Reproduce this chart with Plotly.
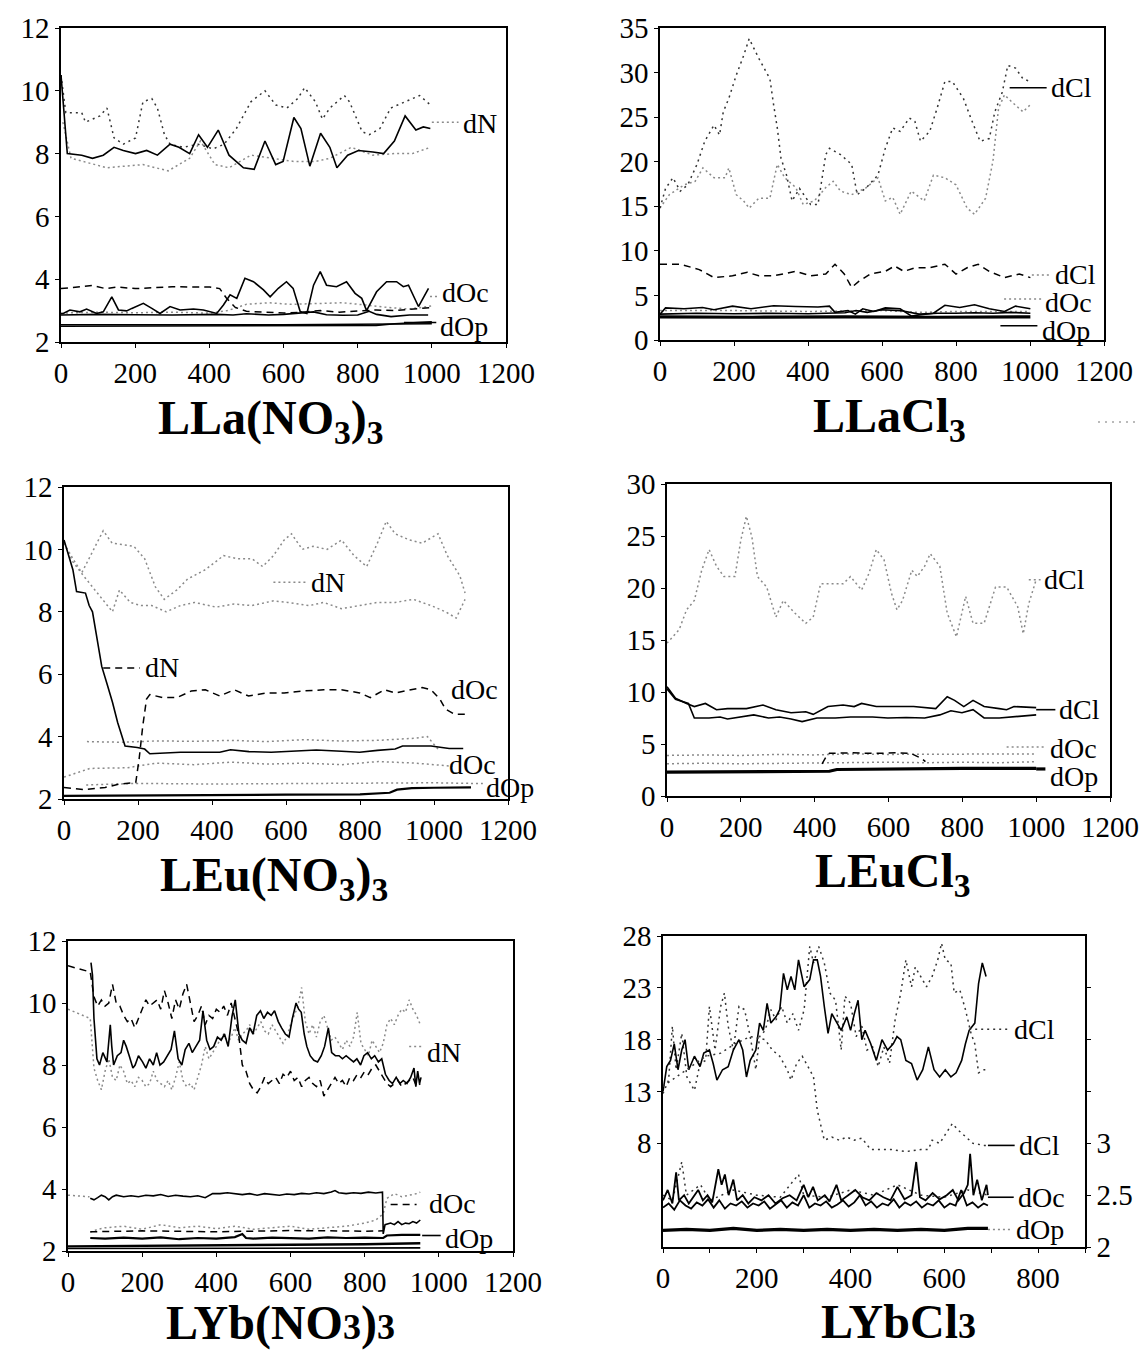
import plotly.graph_objects as go

W, H = 1140, 1352

# ---------------- DATA ----------------
# Panel 1: LLa(NO3)3
p1_dN_solid_x = [0, 8, 17, 56, 85, 114, 143, 168, 201, 231, 260, 294, 318, 347, 371, 395, 424, 453, 473, 492, 521, 550, 579, 599, 628, 647, 671, 700, 725, 744, 773, 802, 841, 870, 899, 928, 957, 977, 996]
p1_dN_solid_y = [10.5, 9.3, 8.0, 7.95, 7.85, 7.95, 8.2, 8.1, 8.0, 8.1, 7.95, 8.3, 8.2, 8.0, 8.6, 8.2, 8.75, 7.95, 7.75, 7.55, 7.5, 8.4, 7.65, 7.75, 9.15, 8.8, 7.6, 8.65, 8.2, 7.55, 7.95, 8.1, 8.05, 8.0, 8.4, 9.2, 8.75, 8.85, 8.8]
p1_dN_dotA_x = [0, 13, 56, 66, 105, 124, 143, 168, 201, 221, 245, 260, 279, 294, 330, 370, 410, 440, 473, 512, 550, 579, 609, 638, 657, 686, 705, 725, 764, 778, 812, 831, 860, 889, 928, 967, 996]
p1_dN_dotA_y = [10.5, 9.3, 9.3, 9.0, 9.2, 9.45, 8.5, 8.3, 8.5, 9.65, 9.75, 9.45, 8.6, 8.3, 8.2, 8.3, 8.15, 8.3, 8.8, 9.65, 10.0, 9.55, 9.45, 9.75, 10.1, 9.65, 9.1, 9.45, 9.85, 9.65, 8.7, 8.6, 8.8, 9.45, 9.65, 9.85, 9.55]
p1_dN_dotB_x = [5, 27, 124, 221, 289, 347, 376, 415, 453, 512, 570, 628, 686, 725, 783, 841, 899, 948, 996]
p1_dN_dotB_y = [9.0, 7.85, 7.55, 7.65, 7.45, 7.85, 8.4, 7.65, 7.55, 7.95, 7.85, 7.75, 7.75, 7.85, 8.2, 7.95, 8.0, 8.0, 8.2]
p1_dOc_solidA_x = [0, 6, 24, 51, 69, 96, 114, 137, 155, 177, 191, 222, 245, 267, 294, 321, 357, 384, 420, 438, 456, 474, 496, 519, 546, 564, 586, 608, 626, 645, 663, 681, 699, 716, 743, 770, 793, 811, 824, 851, 878, 905, 923, 937, 964, 982, 991]
p1_dOc_solidA_y = [2.9, 2.91, 3.02, 2.96, 3.05, 2.91, 2.96, 3.44, 3.02, 2.99, 3.07, 3.23, 3.07, 2.91, 3.13, 3.02, 3.05, 3.02, 2.91, 3.18, 3.5, 3.39, 4.03, 3.92, 3.66, 3.44, 3.71, 3.92, 3.71, 2.97, 2.91, 3.81, 4.24, 3.81, 3.76, 3.92, 3.55, 3.39, 3.0, 3.6, 3.92, 3.92, 3.76, 3.81, 3.13, 3.5, 3.71]
p1_dOc_solidB_x = [0, 100, 200, 300, 420, 464, 500, 560, 600, 663, 681, 716, 760, 800, 831, 851, 890, 940, 990]
p1_dOc_solidB_y = [2.86, 2.88, 2.87, 2.86, 2.88, 2.86, 2.9, 2.86, 2.88, 2.93, 2.96, 2.87, 2.85, 2.86, 2.98, 2.88, 2.81, 2.86, 2.86]
p1_dOc_dash_x = [0, 50, 85, 120, 153, 200, 250, 300, 350, 401, 428, 446, 470, 500, 550, 600, 650, 700, 750, 800, 850, 900, 950, 1000]
p1_dOc_dash_y = [3.7, 3.75, 3.8, 3.7, 3.75, 3.7, 3.73, 3.76, 3.75, 3.75, 3.7, 3.4, 3.1, 2.98, 2.95, 2.92, 2.95, 3.0, 2.95, 2.98, 3.02, 3.0, 3.05, 3.1]
p1_dOc_dot_x = [0, 100, 200, 300, 400, 450, 500, 560, 620, 700, 760, 820, 880, 940, 1000]
p1_dOc_dot_y = [2.92, 2.95, 2.93, 2.95, 2.92, 3.0, 3.2, 3.25, 3.2, 3.22, 3.25, 3.18, 3.1, 3.05, 3.15]
p1_dOp_A_x = [0, 200, 400, 600, 800, 900, 1000]
p1_dOp_A_y = [2.55, 2.54, 2.55, 2.55, 2.56, 2.57, 2.58]
p1_dOp_B_x = [0, 300, 600, 850, 900, 950, 1000]
p1_dOp_B_y = [2.5, 2.51, 2.52, 2.53, 2.58, 2.62, 2.64]

# Panel 2: LLaCl3
p2_dCl_dotA_x = [0, 15, 35, 55, 75, 100, 121, 146, 161, 171, 186, 206, 226, 241, 267, 297, 307, 317, 327, 342, 357, 377, 407, 427, 448, 458, 488, 518, 533, 558, 589, 609, 629, 649, 674, 689, 704, 729, 749, 770, 790, 820, 840, 865, 890, 905, 925, 940, 961, 981, 1001]
p2_dCl_dotA_y = [14.8, 17.0, 18.2, 16.7, 17.4, 19.7, 22.3, 24.1, 23.0, 25.6, 27.1, 29.7, 31.9, 33.8, 31.6, 29.3, 26.4, 23.8, 20.4, 18.5, 15.6, 17.0, 15.2, 15.2, 20.8, 21.5, 20.8, 19.7, 16.3, 17.1, 18.5, 21.5, 23.8, 23.4, 24.9, 24.5, 22.3, 23.4, 26.0, 29.0, 29.0, 27.1, 24.9, 22.3, 22.6, 25.6, 27.8, 30.8, 30.5, 29.3, 29.0]
p2_dCl_dotB_x = [0, 25, 65, 95, 116, 146, 176, 186, 206, 226, 241, 267, 297, 317, 337, 367, 387, 417, 448, 468, 488, 518, 558, 589, 609, 629, 649, 679, 714, 739, 770, 800, 830, 850, 880, 900, 915, 931, 951, 981, 1001]
p2_dCl_dotB_y = [14.8, 16.3, 17.4, 17.8, 19.3, 18.2, 18.2, 19.3, 16.3, 15.6, 14.8, 15.9, 15.9, 19.7, 18.2, 17.1, 15.2, 15.6, 17.1, 17.8, 16.7, 16.3, 17.1, 18.2, 15.6, 16.0, 14.1, 16.7, 15.6, 18.5, 18.2, 17.4, 14.8, 14.1, 15.9, 20.1, 26.0, 27.5, 26.7, 25.6, 26.4]
p2_dCl_dash_x = [0, 55, 106, 146, 196, 236, 267, 307, 367, 407, 448, 473, 498, 518, 538, 568, 609, 634, 659, 689, 729, 770, 800, 830, 860, 890, 931, 971, 1001]
p2_dCl_dash_y = [8.5, 8.5, 7.9, 7.0, 7.2, 7.6, 7.2, 7.2, 7.7, 7.2, 7.4, 8.5, 7.4, 5.9, 6.6, 7.4, 7.7, 8.3, 7.7, 8.1, 8.1, 8.5, 7.4, 8.1, 8.5, 7.7, 7.0, 7.4, 7.0]
p2_dOc_solidA_x = [0, 15, 65, 115, 146, 196, 246, 307, 367, 427, 458, 473, 508, 528, 548, 578, 609, 649, 679, 709, 739, 770, 810, 850, 890, 931, 961, 1001]
p2_dOc_solidA_y = [2.9, 3.6, 3.5, 3.65, 3.4, 3.8, 3.5, 3.85, 3.75, 3.7, 3.8, 3.1, 3.3, 2.9, 3.5, 3.2, 3.6, 3.5, 2.7, 2.85, 3.0, 3.9, 3.65, 3.95, 3.5, 3.2, 3.8, 3.5]
p2_dOc_solidB_x = [0, 100, 200, 300, 400, 458, 500, 530, 560, 600, 650, 700, 750, 800, 850, 900, 950, 1001]
p2_dOc_solidB_y = [2.9, 3.0, 2.95, 3.0, 2.95, 3.0, 3.05, 3.3, 3.1, 3.4, 3.3, 2.9, 3.0, 3.0, 3.05, 3.0, 3.1, 3.0]
p2_dOc_dot_x = [0, 200, 400, 600, 700, 800, 1000]
p2_dOc_dot_y = [3.3, 3.3, 3.2, 3.3, 3.1, 3.2, 3.2]
p2_dOp_x = [0, 250, 500, 750, 1001]
p2_dOp_y = [2.6, 2.55, 2.6, 2.55, 2.6]

# Panel 3: LEu(NO3)3
p3_dN_solid_x = [0, 10, 24, 34, 58, 68, 77, 87, 102, 116, 131, 145, 165, 198, 218, 232, 266, 315, 370, 421, 450, 500, 560, 600, 682, 750, 799, 847, 895, 915, 992, 1041, 1079]
p3_dN_solid_y = [10.3, 9.9, 9.35, 8.65, 8.6, 8.2, 8.0, 7.3, 6.25, 5.7, 5.1, 4.45, 3.7, 3.65, 3.6, 3.45, 3.48, 3.5, 3.5, 3.5, 3.58, 3.52, 3.5, 3.52, 3.57, 3.53, 3.5, 3.56, 3.6, 3.7, 3.7, 3.62, 3.62]
p3_dOc_dash_x = [0, 53, 111, 150, 194, 203, 213, 223, 232, 266, 305, 344, 382, 421, 460, 499, 547, 595, 644, 702, 750, 799, 828, 866, 895, 934, 968, 992, 1016, 1031, 1055, 1084]
p3_dOc_dash_y = [2.37, 2.3, 2.37, 2.48, 2.53, 3.28, 4.35, 5.2, 5.35, 5.25, 5.25, 5.46, 5.5, 5.3, 5.5, 5.3, 5.4, 5.4, 5.46, 5.5, 5.5, 5.4, 5.25, 5.5, 5.4, 5.5, 5.57, 5.5, 5.2, 4.88, 4.72, 4.72]
p3_dN_dotA_x = [0, 24, 48, 106, 130, 189, 218, 247, 271, 305, 334, 382, 431, 470, 508, 537, 566, 595, 615, 644, 673, 711, 750, 784, 818, 847, 871, 895, 934, 968, 1011, 1036, 1070, 1084]
p3_dN_dotA_y = [10.2, 9.7, 9.25, 10.6, 10.2, 10.1, 9.7, 8.8, 8.4, 8.7, 9.05, 9.35, 9.8, 9.7, 9.7, 9.45, 9.8, 10.3, 10.5, 10.0, 10.1, 10.0, 10.3, 9.8, 9.45, 10.2, 10.9, 10.5, 10.3, 10.2, 10.5, 9.8, 9.15, 8.6]
p3_dN_dotB_x = [0, 24, 53, 90, 131, 150, 179, 208, 237, 276, 315, 353, 411, 460, 508, 566, 605, 663, 702, 750, 799, 847, 895, 944, 992, 1031, 1060, 1084]
p3_dN_dotB_y = [10.2, 9.6, 9.15, 8.6, 8.0, 8.7, 8.3, 8.2, 8.2, 8.0, 8.2, 8.3, 8.15, 8.25, 8.2, 8.35, 8.3, 8.2, 8.3, 8.1, 8.2, 8.3, 8.3, 8.4, 8.2, 8.0, 7.8, 8.4]
p3_dOc_dotA_x = [62, 150, 250, 350, 450, 550, 650, 750, 850, 950, 982, 1011]
p3_dOc_dotA_y = [3.84, 3.82, 3.86, 3.85, 3.88, 3.84, 3.9, 3.86, 3.88, 3.95, 4.0, 3.6]
p3_dOc_dotB_x = [0, 70, 170, 250, 350, 450, 550, 650, 750, 850, 950, 1000, 1050]
p3_dOc_dotB_y = [2.7, 2.98, 3.0, 3.15, 3.1, 3.18, 3.12, 3.15, 3.1, 3.2, 3.15, 3.1, 3.05]
p3_dOp_dot_x = [60, 200, 400, 600, 800, 1000, 1100]
p3_dOp_dot_y = [2.45, 2.5, 2.48, 2.5, 2.5, 2.52, 2.5]
p3_dOp_solid_x = [0, 200, 400, 600, 800, 880, 900, 940, 1000, 1100]
p3_dOp_solid_y = [2.1, 2.12, 2.13, 2.14, 2.15, 2.2, 2.3, 2.35, 2.36, 2.37]

# Panel 4: LEuCl3
p4_dCl_dot_x = [0, 33, 53, 74, 94, 114, 134, 154, 184, 200, 215, 230, 245, 270, 295, 315, 346, 376, 396, 416, 446, 477, 497, 527, 547, 567, 588, 608, 623, 638, 663, 678, 698, 713, 739, 759, 784, 809, 829, 859, 890, 920, 950, 965, 980, 1000]
p4_dCl_dot_y = [14.7, 16.0, 17.9, 18.8, 21.7, 23.7, 22.1, 21.1, 21.1, 24.6, 26.9, 24.9, 21.1, 20.1, 17.2, 18.8, 17.6, 16.6, 17.2, 20.4, 20.4, 20.4, 21.1, 19.8, 21.4, 23.7, 22.7, 19.5, 17.9, 18.8, 21.7, 21.1, 22.1, 23.3, 22.1, 17.6, 15.3, 19.2, 16.6, 16.6, 20.1, 20.1, 18.2, 15.6, 18.5, 20.8]
p4_dCl_solidA_x = [0, 23, 53, 74, 104, 134, 164, 215, 260, 295, 336, 376, 396, 436, 477, 507, 527, 567, 618, 668, 728, 759, 779, 804, 829, 859, 900, 920, 940, 980, 1000]
p4_dCl_solidA_y = [10.5, 9.4, 8.9, 8.6, 8.9, 8.3, 8.4, 8.4, 8.75, 8.3, 8.0, 8.1, 7.85, 8.6, 8.75, 8.6, 8.9, 8.6, 8.6, 8.6, 8.4, 9.55, 9.2, 8.6, 9.2, 8.6, 8.4, 8.3, 8.6, 8.5, 8.5]
p4_dCl_solidB_x = [0, 23, 58, 74, 114, 144, 164, 205, 235, 275, 305, 336, 366, 406, 456, 497, 557, 598, 648, 698, 739, 769, 799, 829, 859, 900, 940, 1000]
p4_dCl_solidB_y = [10.3, 9.3, 8.9, 7.5, 7.5, 7.6, 7.4, 7.6, 7.8, 7.5, 7.6, 7.4, 7.15, 7.5, 7.5, 7.6, 7.6, 7.5, 7.55, 7.5, 7.8, 8.2, 8.0, 8.3, 7.5, 7.5, 7.6, 7.8]
p4_dOc_dotA_x = [0, 100, 200, 300, 400, 500, 600, 700, 800, 900, 1000]
p4_dOc_dotA_y = [3.9, 3.95, 3.9, 4.0, 3.95, 4.05, 4.0, 4.0, 4.05, 4.0, 4.05]
p4_dOc_dash_x = [420, 430, 440, 500, 560, 620, 660, 690, 700]
p4_dOc_dash_y = [3.1, 3.7, 4.1, 4.15, 4.1, 4.15, 4.1, 3.6, 3.3]
p4_dOc_dotB_x = [0, 100, 200, 300, 420, 500, 600, 700, 800, 900, 1000]
p4_dOc_dotB_y = [3.1, 3.15, 3.1, 3.15, 3.2, 3.2, 3.25, 3.2, 3.25, 3.2, 3.3]
p4_dOp_x = [0, 100, 200, 300, 400, 440, 460, 600, 800, 1000]
p4_dOp_y = [2.3, 2.32, 2.35, 2.33, 2.35, 2.38, 2.55, 2.6, 2.65, 2.66]

# Panel 5: LYb(NO3)3
p5_dN_solid_x = [62, 66, 70, 78, 85, 94, 105, 114, 118, 123, 133, 143, 150, 157, 165, 175, 181, 190, 201, 210, 220, 230, 239, 248, 258, 268, 278, 287, 297, 307, 316, 326, 335, 345, 355, 364, 374, 383, 393, 403, 413, 422, 432, 442, 451, 461, 470, 480, 490, 499, 509, 519, 528, 538, 548, 557, 567, 576, 586, 596, 605, 615, 622, 629, 637, 644, 653, 663, 673, 683, 692, 702, 707, 711, 721, 731, 740, 750, 760, 770, 779, 789, 798, 808, 818, 827, 837, 846, 856, 866, 875, 885, 895, 904, 914, 924, 933, 938, 943, 948, 952]
p5_dN_solid_y = [11.3, 10.9, 9.5, 8.2, 8.0, 8.4, 8.1, 9.3, 8.6, 8.0, 8.3, 8.4, 8.8, 8.6, 8.3, 7.9, 8.0, 8.3, 8.1, 7.9, 8.2, 8.0, 8.4, 8.0, 8.1, 8.3, 8.5, 9.1, 8.2, 8.0, 8.5, 8.7, 8.4, 8.6, 8.8, 9.75, 8.8, 8.5, 8.6, 8.9, 8.8, 9.0, 8.6, 9.55, 10.1, 9.0, 8.8, 8.7, 9.2, 9.0, 9.6, 9.75, 9.5, 9.7, 9.6, 9.75, 9.4, 9.2, 9.0, 8.9, 9.5, 10.0, 9.8, 9.7, 9.0, 8.6, 8.3, 8.15, 8.1, 8.3, 8.6, 9.2, 8.7, 8.4, 8.3, 8.3, 8.2, 8.3, 8.2, 8.1, 8.2, 8.0, 8.3, 8.4, 8.2, 8.3, 8.1, 8.2, 7.7, 7.5, 7.4, 7.6, 7.4, 7.5, 7.4, 7.6, 7.9, 7.3, 7.8, 7.4, 7.6]
p5_dN_dash_x = [0, 60, 70, 80, 90, 100, 110, 120, 130, 140, 150, 160, 170, 180, 190, 200, 210, 220, 230, 240, 250, 260, 270, 280, 290, 300, 310, 320, 330, 340, 350, 360, 370, 380, 390, 400, 410, 420, 430, 440, 450, 460, 470, 480, 490, 500, 510, 520, 530, 540, 550, 560, 570, 580, 590, 600, 610, 620, 630, 640, 650, 660, 670, 680, 690, 700, 710, 720, 730, 740, 750, 760, 770, 780, 790, 800, 810, 820, 830, 840, 850, 860, 870, 880, 890, 900, 910, 920, 930, 940, 950]
p5_dN_dash_y = [11.2, 11.0, 10.2, 9.9, 10.1, 9.9, 10.0, 10.6, 10.0, 9.9, 9.6, 9.4, 9.5, 9.2, 9.5, 9.8, 10.1, 9.9, 10.0, 10.1, 9.8, 10.4, 10.0, 9.5, 10.1, 9.8, 10.3, 10.6, 10.0, 9.4, 9.6, 9.9, 9.3, 9.6, 9.5, 9.8, 9.7, 9.9, 9.6, 10.0, 9.5, 9.0, 8.0, 7.8, 7.4, 7.2, 7.1, 7.3, 7.6, 7.4, 7.5, 7.6, 7.4, 7.7, 7.6, 7.8, 7.5, 7.6, 7.3, 7.5, 7.6, 7.4, 7.3, 7.5, 7.0, 7.2, 7.4, 7.6, 7.4, 7.5, 7.3, 7.6, 7.5, 7.7, 7.6, 7.8, 7.7, 7.9, 8.0, 7.8, 7.6, 7.4, 7.3, 7.4, 7.5, 7.3, 7.4, 7.5, 7.6, 7.3, 7.4]
p5_dN_dot_x = [0, 60, 70, 80, 90, 100, 110, 120, 130, 140, 150, 160, 170, 180, 190, 200, 210, 220, 230, 240, 250, 260, 270, 280, 290, 300, 310, 320, 330, 340, 350, 360, 370, 380, 390, 400, 410, 420, 430, 440, 450, 460, 470, 480, 490, 500, 510, 520, 530, 540, 550, 560, 570, 580, 590, 600, 610, 620, 630, 640, 650, 660, 670, 680, 690, 700, 710, 720, 730, 740, 750, 760, 770, 780, 790, 800, 810, 820, 830, 840, 850, 860, 870, 880, 890, 900, 910, 920, 930, 940, 950]
p5_dN_dot_y = [9.8, 9.5, 7.9, 7.5, 7.2, 7.8, 8.2, 7.6, 7.5, 8.0, 7.8, 7.4, 7.5, 7.3, 7.6, 7.5, 7.3, 7.4, 7.8, 7.5, 7.4, 7.3, 7.5, 7.2, 7.6, 8.1, 7.5, 7.3, 7.4, 7.2, 7.6, 8.0, 8.6, 8.2, 8.4, 8.6, 8.8, 9.0, 8.7, 8.9, 9.2, 8.8, 9.0, 9.1, 9.3, 9.0, 9.2, 9.4, 9.1, 9.0, 9.3, 9.1, 8.9, 8.7, 8.9, 9.3, 9.6, 9.9, 10.5, 9.4, 9.0, 9.3, 8.9, 9.4, 9.6, 9.2, 8.8, 8.9, 8.7, 8.5, 8.8, 8.6, 8.9, 9.7, 8.7, 8.5, 8.3, 8.8, 8.6, 8.4, 8.7, 9.3, 9.5, 9.3, 9.6, 9.8, 9.7, 10.1, 9.8, 9.6, 9.3]
p5_dOc_solid_x = [60, 70, 80, 90, 100, 110, 120, 130, 150, 170, 190, 210, 230, 250, 270, 290, 310, 330, 350, 370, 390, 410, 430, 450, 470, 490, 510, 530, 550, 570, 590, 610, 630, 650, 670, 690, 710, 720, 730, 750, 770, 790, 810, 830, 848, 850, 855, 870, 880, 890, 900, 910, 920, 930, 940, 950]
p5_dOc_solid_y = [3.7, 3.65, 3.72, 3.8, 3.75, 3.65, 3.75, 3.8, 3.75, 3.78, 3.75, 3.8, 3.78, 3.82, 3.76, 3.8, 3.77, 3.75, 3.78, 3.72, 3.85, 3.85, 3.88, 3.86, 3.82, 3.85, 3.8, 3.85, 3.82, 3.8, 3.84, 3.82, 3.86, 3.84, 3.88, 3.85, 3.9, 3.95, 3.88, 3.85, 3.88, 3.86, 3.9, 3.87, 3.9, 2.55, 2.85, 2.9, 2.85, 2.95, 2.85, 2.9, 2.88, 2.95, 2.9, 3.0]
p5_dOc_dot_x = [0, 58, None, 60, 80, 100, 150, 200, 250, 300, 350, 400, 450, 500, 550, 600, 650, 700, 750, 800, 830, 850, 860, 880, 900, 920, 940, 950]
p5_dOc_dot_y = [3.8, 3.75, None, 2.6, 2.7, 2.75, 2.8, 2.7, 2.85, 2.75, 2.8, 2.72, 2.8, 2.7, 2.75, 2.8, 2.7, 2.75, 2.8, 2.9, 3.0, 3.2, 3.7, 3.85, 3.75, 3.8, 3.85, 3.9]
p5_dOc_dash_x = [60, 200, 400, 600, 800, 850, None, 870, 900, 940]
p5_dOc_dash_y = [2.62, 2.65, 2.62, 2.66, 2.64, 2.65, None, 3.5, 3.5, 3.5]
p5_dOp_A_x = [60, 100, 150, 200, 250, 300, 350, 400, 450, 470, 480, 500, 550, 600, 650, 700, 750, 800, 850, 860, 900, 950]
p5_dOp_A_y = [2.42, 2.4, 2.43, 2.4, 2.44, 2.38, 2.42, 2.4, 2.45, 2.55, 2.42, 2.4, 2.43, 2.42, 2.4, 2.44, 2.42, 2.43, 2.42, 2.5, 2.52, 2.52]
p5_dOp_B_x = [0, 200, 400, 600, 800, 950]
p5_dOp_B_y = [2.15, 2.16, 2.18, 2.2, 2.22, 2.25]
p5_dOp_C_x = [0, 300, 600, 950]
p5_dOp_C_y = [2.08, 2.08, 2.09, 2.1]

# Panel 6: LYbCl3 (left axis: dCl; right axis: lower dCl, dOc, dOp)
p6_dCl_solid_x = [0, 8, 16, 24, 32, 40, 47, 55, 67, 79, 87, 99, 107, 115, 127, 139, 150, 162, 170, 178, 186, 198, 206, 214, 222, 230, 241, 249, 257, 265, 273, 281, 289, 301, 313, 321, 329, 336, 344, 352, 360, 372, 380, 392, 400, 408, 416, 424, 431, 443, 455, 467, 479, 491, 499, 507, 518, 530, 542, 554, 566, 578, 590, 602, 614, 625, 637, 645, 653, 665, 673, 681, 689]
p6_dCl_solid_y = [13.0, 15.4, 16.0, 17.6, 15.1, 17.0, 18.0, 15.1, 16.4, 15.4, 16.7, 17.0, 15.7, 14.1, 15.1, 15.4, 17.0, 18.0, 17.0, 14.4, 16.0, 17.0, 19.6, 18.9, 21.5, 19.6, 20.2, 20.9, 24.4, 22.8, 24.1, 22.8, 25.7, 23.1, 23.8, 25.7, 25.7, 24.1, 21.2, 18.6, 20.5, 19.6, 18.9, 20.2, 18.9, 20.5, 21.8, 18.0, 18.9, 17.6, 16.0, 18.0, 17.0, 17.6, 18.3, 18.0, 16.0, 15.7, 14.1, 15.1, 17.3, 15.1, 14.4, 15.1, 14.4, 14.8, 16.0, 17.6, 18.9, 19.6, 23.4, 25.4, 24.1]
p6_dCl_dot_x = [0, 12, 20, 28, 40, 51, 67, 79, 91, 99, 111, 123, 131, 139, 150, 162, 174, 186, 198, 206, 218, 230, 241, 253, 265, 277, 289, 301, 313, 321, 332, 344, 356, 368, 380, 388, 400, 412, 424, 435, 447, 459, 471, 483, 495, 507, 518, 530, 538, 550, 562, 574, 586, 594, 602, 614, 621, 633, 645, 657, 665, 673, 685, 693]
p6_dCl_dot_y = [12.8, 14.1, 19.3, 15.1, 18.6, 14.4, 13.1, 15.7, 16.0, 21.2, 17.0, 21.2, 22.5, 19.3, 17.0, 21.2, 20.9, 18.3, 15.1, 18.3, 18.9, 20.9, 19.9, 21.2, 19.6, 20.5, 18.9, 20.9, 27.0, 25.4, 27.0, 25.4, 22.5, 21.8, 17.0, 22.2, 21.5, 18.3, 19.3, 17.0, 17.3, 15.4, 17.3, 15.7, 19.9, 22.5, 25.7, 23.1, 25.0, 24.1, 23.1, 24.1, 25.7, 27.3, 25.7, 25.4, 22.5, 22.8, 20.9, 18.6, 17.6, 14.8, 15.1, 15.1]
p6_dCl2_x = [0, 28, 59, 91, 123, 154, 186, 218, 233, 249, 265, 273, 285, 297, 313, 321, 329, 336, 344, 360, 376, 392, 408, 424, 443, 463, 487, 518, 550, 566, 574, 590, 606, 617, 629, 645, 661, 685, 693]
p6_dCl2_y = [3.55, 3.64, 3.74, 3.84, 3.87, 3.96, 4.03, 4.0, 3.9, 3.84, 3.71, 3.61, 3.77, 3.84, 3.71, 3.64, 3.32, 3.19, 3.03, 3.06, 3.03, 3.06, 3.03, 3.05, 2.94, 2.94, 2.94, 2.92, 2.94, 2.94, 3.03, 3.0, 3.11, 3.19, 3.13, 3.06, 3.0, 2.98, 2.98]
p6_dOc_A_x = [0, 10, 20, 28, 34, 45, 55, 65, 75, 85, 95, 105, 118, 125, 132, 140, 150, 158, 170, 182, 195, 210, 225, 240, 255, 270, 285, 300, 310, 320, 330, 345, 355, 370, 380, 395, 410, 425, 440, 455, 470, 485, 500, 515, 530, 540, 548, 560, 575, 590, 605, 618, 630, 642, 650, 655, 662, 670, 680, 690, 693]
p6_dOc_A_y = [2.45, 2.55, 2.42, 2.72, 2.45, 2.5, 2.42, 2.48, 2.55, 2.45, 2.5, 2.43, 2.75, 2.6, 2.7, 2.5, 2.65, 2.45, 2.5, 2.42, 2.48, 2.45, 2.5, 2.42, 2.47, 2.5, 2.45, 2.6, 2.48, 2.58, 2.45, 2.5, 2.44, 2.6, 2.45, 2.5, 2.55, 2.48, 2.45, 2.52, 2.48, 2.45, 2.58, 2.46, 2.5, 2.82, 2.48, 2.45, 2.52, 2.46, 2.5, 2.55, 2.45, 2.52, 2.6, 2.9, 2.5, 2.65, 2.45, 2.6, 2.5]
p6_dOc_B_x = [0, 12, 24, 36, 48, 60, 72, 84, 96, 108, 120, 132, 144, 156, 168, 180, 192, 204, 216, 228, 240, 252, 264, 276, 288, 300, 312, 324, 336, 348, 360, 372, 384, 396, 408, 420, 432, 444, 456, 468, 480, 492, 504, 516, 528, 540, 552, 564, 576, 588, 600, 612, 624, 636, 648, 660, 672, 684, 693]
p6_dOc_B_y = [2.38, 2.42, 2.36, 2.45, 2.4, 2.37, 2.43, 2.4, 2.46, 2.38, 2.45, 2.37, 2.42, 2.4, 2.44, 2.38, 2.42, 2.4, 2.44, 2.37, 2.41, 2.45, 2.38, 2.43, 2.4, 2.5, 2.38, 2.42, 2.4, 2.44, 2.38, 2.41, 2.45, 2.39, 2.43, 2.5, 2.4, 2.44, 2.38, 2.42, 2.4, 2.46, 2.38, 2.43, 2.4, 2.44, 2.38, 2.42, 2.4, 2.45, 2.38, 2.42, 2.4, 2.55, 2.4, 2.43, 2.38, 2.42, 2.4]
p6_dOc_dot_x = [0, 20, 40, 50, 80, 100, 150, 200, 250, 289, 300, 350, 400, 450, 500, 550, 600, 650, 693]
p6_dOc_dot_y = [2.5, 2.45, 2.82, 2.5, 2.6, 2.45, 2.55, 2.5, 2.48, 2.7, 2.5, 2.48, 2.55, 2.5, 2.6, 2.5, 2.48, 2.55, 2.5]
p6_dOp_x = [0, 50, 100, 150, 200, 250, 300, 350, 400, 450, 500, 550, 600, 650, 693]
p6_dOp_y = [2.16, 2.17, 2.16, 2.18, 2.16, 2.17, 2.16, 2.17, 2.16, 2.17, 2.16, 2.17, 2.16, 2.18, 2.18]

S3 = "<span style='font-size:36px'>3</span>"
titles = ["LLa(NO<sub>3</sub>)<sub>3</sub>", "LLaCl<sub>3</sub>", "LEu(NO<sub>3</sub>)<sub>3</sub>",
          "LEuCl<sub>3</sub>", "LYb(NO" + S3 + ")" + S3, "LYbCl" + S3]

# ---------------- STYLES / LAYOUT ----------------
SOLID = dict(color="black", width=1.6)
THICK = dict(color="black", width=3.2)
DASH = dict(color="black", width=1.5, dash="7px,5px")
DOTK = dict(color="#333333", width=1.5, dash="2px,4px")
DOTG = dict(color="#8a8a8a", width=1.5, dash="2px,3px")

SERIF = "Liberation Serif"

# panel boxes in pixels: (left, right, top, bottom)
boxes = [(61, 506, 28, 342), (660, 1104, 28, 340), (64, 508, 487, 799),
         (667, 1110, 484, 796), (68, 513, 941, 1251), (663, 1085, 936, 1247)]
title_pos = [(271, 421), (889, 419), (274, 878), (893, 874), (280, 1323), (898, 1321)]

fig = go.Figure()


def add(n, x, y, style, yax=None):
    fig.add_trace(go.Scatter(x=x, y=y, mode="lines", line=style,
                             xaxis="x" if n == 1 else f"x{n}",
                             yaxis=yax or ("y" if n == 1 else f"y{n}"),
                             showlegend=False, hoverinfo="skip", connectgaps=False))


# Panel 1
add(1, p1_dN_dotB_x, p1_dN_dotB_y, DOTG)
add(1, p1_dN_dotA_x, p1_dN_dotA_y, DOTK)
add(1, p1_dN_solid_x, p1_dN_solid_y, SOLID)
add(1, p1_dOc_dot_x, p1_dOc_dot_y, DOTG)
add(1, p1_dOc_dash_x, p1_dOc_dash_y, DASH)
add(1, p1_dOc_solidB_x, p1_dOc_solidB_y, SOLID)
add(1, p1_dOc_solidA_x, p1_dOc_solidA_y, SOLID)
add(1, p1_dOp_A_x, p1_dOp_A_y, SOLID)
add(1, p1_dOp_B_x, p1_dOp_B_y, SOLID)
# Panel 2
add(2, p2_dCl_dotB_x, p2_dCl_dotB_y, DOTG)
add(2, p2_dCl_dotA_x, p2_dCl_dotA_y, DOTK)
add(2, p2_dCl_dash_x, p2_dCl_dash_y, DASH)
add(2, p2_dOc_dot_x, p2_dOc_dot_y, DOTG)
add(2, p2_dOc_solidB_x, p2_dOc_solidB_y, SOLID)
add(2, p2_dOc_solidA_x, p2_dOc_solidA_y, SOLID)
add(2, p2_dOp_x, p2_dOp_y, THICK)
# Panel 3
add(3, p3_dN_dotA_x, p3_dN_dotA_y, DOTG)
add(3, p3_dN_dotB_x, p3_dN_dotB_y, DOTG)
add(3, p3_dOc_dotA_x, p3_dOc_dotA_y, DOTG)
add(3, p3_dOc_dotB_x, p3_dOc_dotB_y, DOTG)
add(3, p3_dOp_dot_x, p3_dOp_dot_y, DOTG)
add(3, p3_dOc_dash_x, p3_dOc_dash_y, DASH)
add(3, p3_dN_solid_x, p3_dN_solid_y, SOLID)
add(3, p3_dOp_solid_x, p3_dOp_solid_y, dict(color="black", width=2.2))
# Panel 4
add(4, p4_dCl_dot_x, p4_dCl_dot_y, DOTG)
add(4, p4_dCl_solidA_x, p4_dCl_solidA_y, SOLID)
add(4, p4_dCl_solidB_x, p4_dCl_solidB_y, SOLID)
add(4, p4_dOc_dotA_x, p4_dOc_dotA_y, DOTG)
add(4, p4_dOc_dotB_x, p4_dOc_dotB_y, DOTG)
add(4, p4_dOc_dash_x, p4_dOc_dash_y, DASH)
add(4, p4_dOp_x, p4_dOp_y, THICK)
# Panel 5
add(5, p5_dN_dot_x, p5_dN_dot_y, DOTG)
add(5, p5_dN_dash_x, p5_dN_dash_y, DASH)
add(5, p5_dN_solid_x, p5_dN_solid_y, SOLID)
add(5, p5_dOc_dot_x, p5_dOc_dot_y, DOTG)
add(5, p5_dOc_dash_x, p5_dOc_dash_y, DASH)
add(5, p5_dOc_solid_x, p5_dOc_solid_y, SOLID)
add(5, p5_dOp_A_x, p5_dOp_A_y, dict(color="black", width=2.2))
add(5, p5_dOp_B_x, p5_dOp_B_y, dict(color="black", width=2.4))
add(5, p5_dOp_C_x, p5_dOp_C_y, SOLID)
# Panel 6
add(6, p6_dCl_dot_x, p6_dCl_dot_y, DOTK)
add(6, p6_dCl_solid_x, p6_dCl_solid_y, SOLID)
add(6, p6_dCl2_x, p6_dCl2_y, DOTK, "y7")
add(6, p6_dOc_dot_x, p6_dOc_dot_y, DOTK, "y7")
add(6, p6_dOc_B_x, p6_dOc_B_y, dict(color="black", width=1.8), "y7")
add(6, p6_dOc_A_x, p6_dOc_A_y, dict(color="black", width=1.8), "y7")
add(6, p6_dOp_x, p6_dOp_y, THICK, "y7")

# Line labels: (panel, text, x, y, leader x0, leader x1, leader y, leader style, yaxis)
labels = [
    (1, "dN", 1078, 8.97, 1000, 1072, 9.0, DOTG, None),
    (1, "dOc", 1022, 3.58, 995, 1018, 3.45, DOTG, None),
    (1, "dOp", 1017, 2.48, 925, 1012, 2.62, SOLID, None),
    (2, "dCl", 1051, 28.3, 945, 1045, 28.3, SOLID, None),
    (2, "dCl", 1061, 7.4, 1005, 1055, 7.3, DOTG, None),
    (2, "dOc", 1036, 4.2, 930, 1030, 4.6, DOTG, None),
    (2, "dOp", 1026, 1.1, 920, 1020, 1.6, SOLID, None),
    (3, "dN", 663, 8.95, 566, 656, 8.95, DOTG, None),
    (3, "dN", 213, 6.2, 106, 205, 6.2, DASH, None),
    (3, "dOc", 1040, 5.5, None, None, None, None, None),
    (3, "dOc", 1035, 3.12, None, None, None, None, None),
    (3, "dOp", 1135, 2.37, 1100, 1132, 2.5, DOTG, None),
    (4, "dCl", 1016, 20.8, 980, 1012, 20.8, DOTG, None),
    (4, "dCl", 1056, 8.3, 1000, 1052, 8.3, SOLID, None),
    (4, "dOc", 1031, 4.6, 920, 1025, 4.7, DOTG, None),
    (4, "dOp", 1031, 1.9, 1000, 1025, 2.6, THICK, None),
    (5, "dN", 962, 8.4, 920, 958, 8.6, DOTG, None),
    (5, "dOc", 967, 3.53, None, None, None, None, None),
    (5, "dOp", 1010, 2.4, 955, 1005, 2.5, SOLID, None),
    (6, "dCl", 744, 19.0, 653, 738, 19.0, DOTK, None),
    (6, "dCl", 756, 2.98, 693, 750, 2.98, SOLID, "y7"),
    (6, "dOc", 752, 2.48, 693, 748, 2.48, SOLID, "y7"),
    (6, "dOp", 748, 2.17, 693, 744, 2.17, DOTG, "y7"),
]

annotations = []
for (n, txt, x, y, lx0, lx1, ly, lst, yax) in labels:
    if lx0 is not None:
        add(n, [lx0, lx1], [ly, ly], lst, yax)
    yref = yax or ("y" if n == 1 else f"y{n}")
    annotations.append(dict(text=txt, x=x, y=y, xref="x" if n == 1 else f"x{n}", yref=yref,
                            showarrow=False, xanchor="left", yanchor="middle",
                            font=dict(family=SERIF, size=28, color="black")))

for (cx, cy), t in zip(title_pos, titles):
    annotations.append(dict(text=f"<b>{t}</b>", x=cx / W, y=1 - cy / H, xref="paper", yref="paper",
                            showarrow=False, xanchor="center", yanchor="middle",
                            font=dict(family=SERIF, size=48, color="black")))

axis_common = dict(showline=True, linecolor="black", linewidth=1.5, mirror=True,
                   ticks="outside", ticklen=4, tickwidth=1.3, tickcolor="black",
                   showgrid=False, zeroline=False, automargin=False,
                   tickfont=dict(family=SERIF, size=29, color="black"))

yranges = [(2, 12, 2), (0, 35, 5), (2, 12, 2), (0, 30, 5), (2, 12, 2), (-2, 28, 5)]
layout = dict(width=W, height=H, margin=dict(l=0, r=0, t=0, b=0, autoexpand=False),
              paper_bgcolor="white", plot_bgcolor="white", template="none",
              annotations=annotations, showlegend=False)

for i, (l, r, t, b) in enumerate(boxes, start=1):
    xk = "xaxis" if i == 1 else f"xaxis{i}"
    yk = "yaxis" if i == 1 else f"yaxis{i}"
    xa = dict(axis_common, domain=[l / W, r / W], anchor="y" if i == 1 else f"y{i}")
    ya = dict(axis_common, domain=[1 - b / H, 1 - t / H], anchor="x" if i == 1 else f"x{i}")
    if i < 6:
        xa.update(range=[0, 1200], tickmode="array", tickvals=[0, 200, 400, 600, 800, 1000, 1200])
    else:
        xa.update(range=[0, 900], tickmode="array", tickvals=[0, 200, 400, 600, 800],
                  minor=dict(tickmode="array", tickvals=[100, 300, 500, 700, 900],
                             ticks="outside", ticklen=4, tickcolor="black"))
    lo, hi, step = yranges[i - 1]
    ya.update(range=[lo, hi])
    if i < 6:
        ya.update(tickmode="array", tickvals=list(range(lo, hi + 1, step)))
    else:
        ya.update(tickmode="array", tickvals=[8, 13, 18, 23, 28])
    layout[xk] = xa
    layout[yk] = ya

layout["yaxis7"] = dict(axis_common, overlaying="y6", side="right", anchor="x6",
                        range=[2, 5], mirror=False, tickmode="array",
                        tickvals=[2, 2.5, 3],
                        minor=dict(tickmode="array", tickvals=[3.5, 4, 4.5],
                                   ticks="outside", ticklen=4, tickcolor="black"))

# stray scan mark to the right of the LLaCl3 title
layout["shapes"] = [dict(type="line", xref="paper", yref="paper", x0=1098 / W, x1=1136 / W,
                         y0=1 - 422 / H, y1=1 - 422 / H,
                         line=dict(color="#777777", width=1.2, dash="2px,5px"))]

fig.update_layout(**layout)
fig.write_html("out.html")
